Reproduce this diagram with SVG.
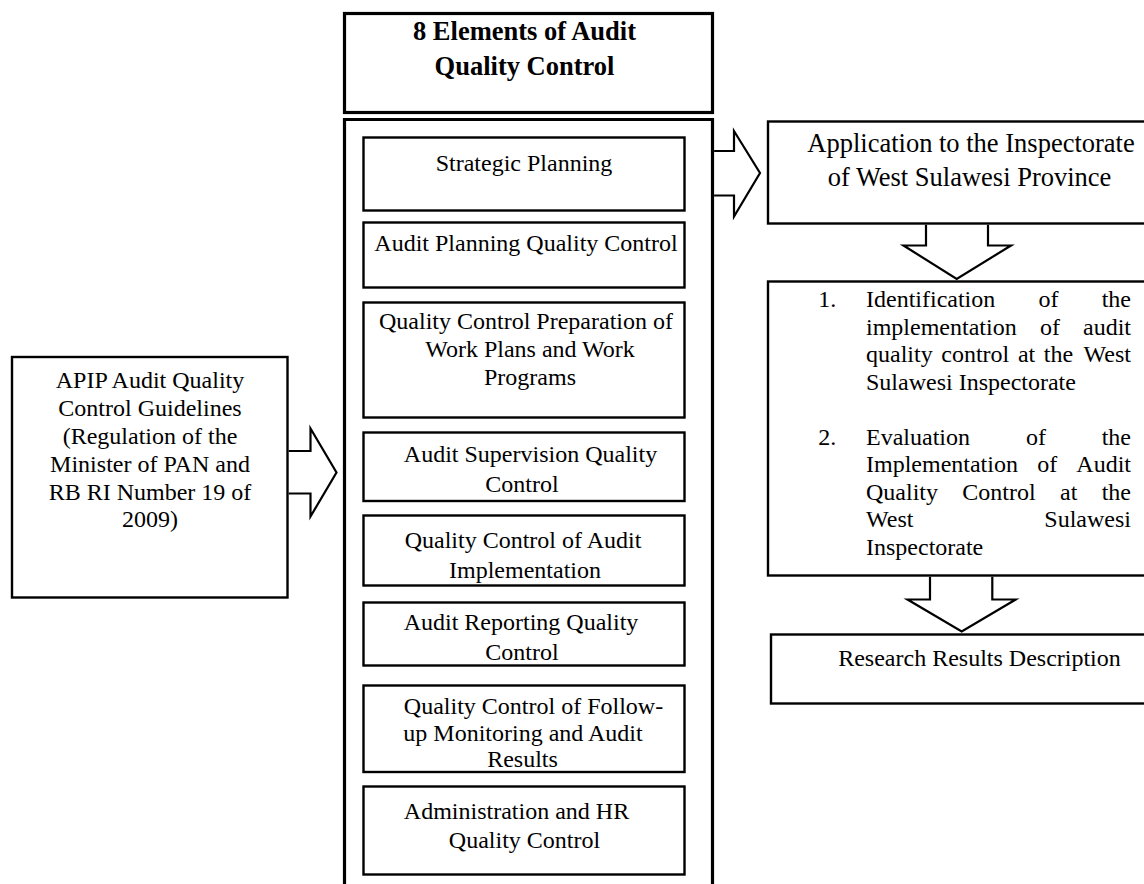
<svg xmlns="http://www.w3.org/2000/svg" width="1144" height="884" viewBox="0 0 1144 884">
<style>
.t{font-family:"Liberation Serif","Times New Roman",serif;font-size:24px;fill:#000}
.c{text-anchor:middle}
.e{text-anchor:end}
.b{font-weight:bold;font-size:26.5px}
.thick{fill:#fff;stroke:#000;stroke-width:3.2}
.box{fill:#fff;stroke:#000;stroke-width:2.4}
.arr{fill:none;stroke:#000;stroke-width:2.2;stroke-linejoin:miter}
</style>
<rect width="1144" height="884" fill="#fff"/>

<g id="title">
<rect class="thick" x="344.5" y="13.5" width="368" height="99"/>
<text class="t b c" x="524.5" y="40">8 Elements of Audit</text>
<text class="t b c" x="524.5" y="75">Quality Control</text>
</g>

<g id="container">
<path class="thick" d="M344.5,900 V119.5 H712.5 V900"/>
</g>

<g id="n1">
<rect class="box" x="363.5" y="137.5" width="321" height="73"/>
<text class="t c" x="524" y="171">Strategic Planning</text>
</g>
<g id="n2">
<rect class="box" x="363.5" y="222.5" width="321" height="65"/>
<text class="t c" x="526" y="251">Audit Planning Quality Control</text>
</g>
<g id="n3">
<rect class="box" x="363.5" y="302.5" width="321" height="115"/>
<text class="t c" x="526" y="329">Quality Control Preparation of</text>
<text class="t c" x="530" y="357">Work Plans and Work</text>
<text class="t c" x="530" y="385">Programs</text>
</g>
<g id="n4">
<rect class="box" x="363.5" y="432.5" width="321" height="68.5"/>
<text class="t c" x="530.5" y="462">Audit Supervision Quality</text>
<text class="t c" x="522" y="492">Control</text>
</g>
<g id="n5">
<rect class="box" x="363.5" y="515.5" width="321" height="70"/>
<text class="t c" x="523" y="548">Quality Control of Audit</text>
<text class="t c" x="525" y="578">Implementation</text>
</g>
<g id="n6">
<rect class="box" x="363.5" y="602.5" width="321" height="63"/>
<text class="t c" x="521" y="630">Audit Reporting Quality</text>
<text class="t c" x="522" y="660">Control</text>
</g>
<g id="n7">
<rect class="box" x="363.5" y="685.5" width="321" height="86.5"/>
<text class="t c" x="533.5" y="714">Quality Control of Follow-</text>
<text class="t c" x="523" y="741">up Monitoring and Audit</text>
<text class="t c" x="522.5" y="767">Results</text>
</g>
<g id="n8">
<rect class="box" x="363.5" y="786.5" width="321" height="88"/>
<text class="t c" x="516.5" y="819">Administration and HR</text>
<text class="t c" x="524.5" y="848">Quality Control</text>
</g>

<g id="guidelines">
<rect class="box" x="12" y="357" width="275.5" height="240.5"/>
<text class="t c" x="150" y="387.5">APIP Audit Quality</text>
<text class="t c" x="150" y="415.5">Control Guidelines</text>
<text class="t c" x="150" y="443.5">(Regulation of the</text>
<text class="t c" x="150" y="471.5">Minister of PAN and</text>
<text class="t c" x="150" y="499.5">RB RI Number 19 of</text>
<text class="t c" x="150" y="527">2009)</text>
</g>

<g id="application">
<rect class="box" x="768" y="121.5" width="400" height="102"/>
<text class="t c" x="971" y="152" style="font-size:26.5px">Application to the Inspectorate</text>
<text class="t c" x="969.5" y="186" style="font-size:26.5px">of West Sulawesi Province</text>
</g>

<g id="objectives">
<rect class="box" x="768" y="281.5" width="400" height="294"/>
<text class="t" x="818.3" y="307">1.</text>
<text class="t" y="307"><tspan x="866">Identification</tspan><tspan x="1038.5">of</tspan></text>
<text class="t e" x="1131" y="307">the</text>
<text class="t" y="334.5"><tspan x="866">implementation</tspan><tspan x="1040">of</tspan></text>
<text class="t e" x="1131" y="334.5">audit</text>
<text class="t" y="362"><tspan x="866">quality</tspan><tspan x="941.3">control</tspan><tspan x="1017.9">at</tspan><tspan x="1043.8">the</tspan></text>
<text class="t e" x="1131" y="362">West</text>
<text class="t" x="866" y="389.5">Sulawesi Inspectorate</text>
<text class="t" x="818.3" y="444.5">2.</text>
<text class="t" y="444.5"><tspan x="866">Evaluation</tspan><tspan x="1026">of</tspan></text>
<text class="t e" x="1131" y="444.5">the</text>
<text class="t" y="472"><tspan x="866">Implementation</tspan><tspan x="1037.2">of</tspan></text>
<text class="t e" x="1131" y="472">Audit</text>
<text class="t" y="499.5"><tspan x="866">Quality</tspan><tspan x="962.3">Control</tspan><tspan x="1060">at</tspan></text>
<text class="t e" x="1131" y="499.5">the</text>
<text class="t" x="866" y="527">West</text>
<text class="t e" x="1131" y="527">Sulawesi</text>
<text class="t" x="866" y="554.5">Inspectorate</text>
</g>

<g id="results">
<rect class="box" x="771" y="634.5" width="400" height="69"/>
<text class="t c" x="979.5" y="666">Research Results Description</text>
</g>

<g id="connectors">
<path class="arr" d="M288.7,451 H310.5 V428.5 L336.5,472.5 L310.5,516.5 V493.5 H288.7"/>
<path class="arr" d="M714.1,151 H734 V131 L760,173 L734,216.5 V195.5 H714.1"/>
<path class="arr" d="M926,224.7 V245.5 H903.5 L956.7,279 L1011,245.5 H988 V224.7"/>
<path class="arr" d="M930,576.7 V599.5 H907.5 L961.7,631.5 L1015.7,599.5 H992.3 V576.7"/>
</g>
</svg>
